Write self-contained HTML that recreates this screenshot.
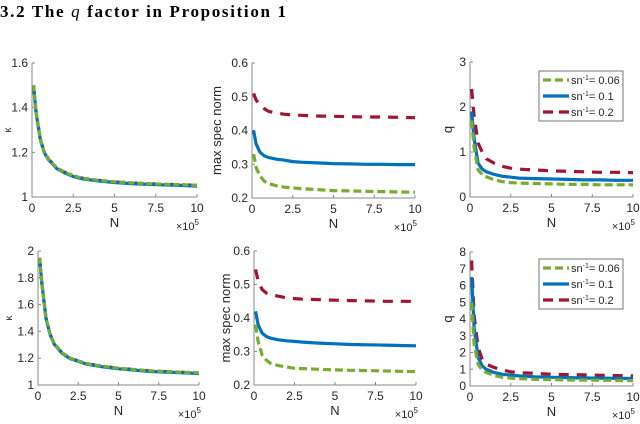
<!DOCTYPE html>
<html><head><meta charset="utf-8"><style>
body{margin:0;background:#fff;width:640px;height:419px;overflow:hidden}
svg text{font-family:"Liberation Sans",sans-serif;fill:#262626}
</style></head><body>
<svg id="fig" width="640" height="419" viewBox="0 0 640 419" xmlns="http://www.w3.org/2000/svg">
<text x="0" y="17" textLength="286" lengthAdjust="spacing" style="font-family:'Liberation Serif',serif;font-weight:bold;font-size:17px;fill:#000">3.2   The <tspan font-style="italic" font-weight="normal">q</tspan> factor in Proposition 1</text>
</svg>
<script>
const xs=[0.1,0.25,0.5,0.75,1,1.5,2,2.5,3,4,5,6,7,8,9,10];
const xTicks=[0,2.5,5,7.5,10];
const xTickLabels=["0","2.5","5","7.5","10"];
const kTop=[1.5,1.38,1.26,1.2,1.17,1.13,1.11,1.095,1.085,1.075,1.068,1.063,1.06,1.057,1.055,1.052];
const mTopRed=[0.51,0.49,0.475,0.465,0.457,0.452,0.448,0.446,0.445,0.443,0.442,0.441,0.44,0.44,0.439,0.438];
const mTopBlue=[0.4,0.36,0.335,0.325,0.32,0.315,0.312,0.308,0.306,0.304,0.302,0.301,0.3,0.3,0.299,0.299];
const mTopGreen=[0.33,0.29,0.265,0.25,0.243,0.236,0.232,0.23,0.228,0.225,0.222,0.221,0.22,0.219,0.218,0.217];
const qTopRed=[2.4,1.8,1.2,1.0,0.85,0.75,0.68,0.64,0.62,0.6,0.58,0.57,0.56,0.55,0.55,0.54];
const qTopBlue=[1.9,1.3,0.75,0.62,0.56,0.5,0.46,0.44,0.42,0.41,0.4,0.39,0.38,0.38,0.37,0.37];
const qTopGreen=[1.7,1.1,0.6,0.5,0.45,0.38,0.34,0.32,0.31,0.3,0.29,0.28,0.28,0.27,0.27,0.27];
const kBot=[1.95,1.75,1.5,1.38,1.31,1.24,1.2,1.18,1.16,1.14,1.125,1.115,1.105,1.1,1.095,1.09];
const mBotRed=[0.545,0.51,0.485,0.475,0.47,0.465,0.46,0.458,0.456,0.455,0.453,0.452,0.451,0.45,0.45,0.45];
const mBotBlue=[0.42,0.38,0.355,0.345,0.34,0.335,0.332,0.33,0.328,0.325,0.323,0.321,0.32,0.319,0.318,0.317];
const mBotGreen=[0.38,0.33,0.29,0.275,0.265,0.258,0.254,0.25,0.249,0.247,0.245,0.244,0.243,0.242,0.241,0.24];
const qBotRed=[7.5,4.2,2.3,1.6,1.3,1.1,0.95,0.85,0.8,0.75,0.7,0.68,0.66,0.64,0.62,0.6];
const qBotBlue=[6.5,3.5,1.7,1.2,1.0,0.8,0.7,0.65,0.6,0.55,0.52,0.5,0.48,0.47,0.46,0.45];
const qBotGreen=[5,2.5,1.3,0.95,0.8,0.62,0.52,0.47,0.44,0.4,0.38,0.36,0.35,0.34,0.33,0.32];

const NS="http://www.w3.org/2000/svg",svg=document.getElementById('fig');
const C={g:"#77AC30",b:"#0072BD",r:"#A2142F"};
function mk(t,a,p){const e=document.createElementNS(NS,t);for(const k in a)e.setAttribute(k,a[k]);(p||svg).appendChild(e);return e;}
function panel(name,x0,x1,yT,yB,ymin,ymax,yticks,ylab,series,legend){
  const g=mk('g',{});
  
  
  const X=v=>x0+(v-0)/10*(x1-x0), Y=v=>yB-(v-ymin)/(ymax-ymin)*(yB-yT);
  const ax=mk('path',{d:`M${x0},${yT}V${yB}H${x1}`,stroke:"#888",fill:"none","stroke-width":1},g);
  
  
  xTicks.forEach((t,i)=>{
    mk('line',{x1:X(t),x2:X(t),y1:yB,y2:yB-3,stroke:"#888"},g);
    const tx=mk('text',{x:X(t),y:yB+15,"text-anchor":"middle","font-size":12},g);tx.textContent=xTickLabels[i];
    
    
  });
  yticks.forEach(t=>{
    mk('line',{x1:x0,x2:x0+3,y1:Y(t),y2:Y(t),stroke:"#888"},g);
    const tx=mk('text',{x:x0-4,y:Y(t)+4,"text-anchor":"end","font-size":12},g);tx.textContent=String(t);
    
    
  });
  const xl=mk('text',{x:(x0+x1)/2,y:yB+30,"text-anchor":"middle","font-size":13},g);xl.textContent="N";
  
  
  const ex=mk('text',{x:x1+2,y:yB+33,"text-anchor":"end","font-size":11,fill:"#555"},g);ex.innerHTML='×10<tspan dy="-5" font-size="8">5</tspan>';
  
  
  const yl=mk('text',{transform:`translate(${ylab.x},${(yT+yB)/2}) rotate(-90)`,"text-anchor":"middle","font-size":ylab.s},g);yl.textContent=ylab.t;
  
  
  series.forEach(s=>{
    const d=xs.map((v,i)=>(i?'L':'M')+X(v).toFixed(1)+','+Y(s.v[i]).toFixed(1)).join('');
    const p=mk('path',{d:d,stroke:C[s.c],fill:"none","stroke-width":3.2,"stroke-dasharray":s.dash||"none"},g);
    
    
  });
  if(legend){
    const lg=mk('g',{},g);
    
    
    mk('rect',{x:legend.x,y:legend.y,width:84,height:50,fill:"#fff",stroke:"#555","stroke-width":0.8},lg);
    [["g","0.06","8 4"],["b","0.1","none"],["r","0.2","10 6"]].forEach((e,i)=>{
      const yy=legend.y+9+i*16;
      mk('line',{x1:legend.x+4,x2:legend.x+30,y1:yy,y2:yy,stroke:C[e[0]],"stroke-width":3.2,"stroke-dasharray":e[2]},lg);
      const t=mk('text',{x:legend.x+32,y:yy+4,"font-size":11},lg);t.innerHTML='sn<tspan dy="-4" font-size="7">-1</tspan><tspan dy="4">= '+e[1]+'</tspan>';
      
      
    });
  }
}
const gd="8 4", rd="10 8";
panel('kappa-top',32,197,63,197,1,1.6,[1,1.2,1.4,1.6],{x:11,t:"κ",s:10},
 [{n:'red',c:'r',v:kTop,dash:"3 3"},{n:'blue',c:'b',v:kTop.map(v=>v-0.003),dash:"none"},{n:'green',c:'g',v:kTop,dash:"6 3"}]);
panel('spec-norm-top',252,415,63,198,0.2,0.6,[0.2,0.3,0.4,0.5,0.6],{x:221,t:"max spec norm",s:13},
 [{n:'red',c:'r',v:mTopRed,dash:rd},{n:'blue',c:'b',v:mTopBlue},{n:'green',c:'g',v:mTopGreen,dash:gd}]);
panel('q-top',470,633,62,197,0,3,[0,1,2,3],{x:452,t:"q",s:13},
 [{n:'red',c:'r',v:qTopRed,dash:rd},{n:'blue',c:'b',v:qTopBlue},{n:'green',c:'g',v:qTopGreen,dash:gd}],{x:539,y:71});
panel('kappa-bottom',38,199,251,385,1,2,[1,1.2,1.4,1.6,1.8,2],{x:12,t:"κ",s:10},
 [{n:'red',c:'r',v:kBot,dash:"3 3"},{n:'blue',c:'b',v:kBot.map(v=>v-0.004),dash:"none"},{n:'green',c:'g',v:kBot,dash:"6 3"}]);
panel('spec-norm-bottom',254,416,251,385,0.2,0.6,[0.2,0.3,0.4,0.5,0.6],{x:230,t:"max spec norm",s:13},
 [{n:'red',c:'r',v:mBotRed,dash:rd},{n:'blue',c:'b',v:mBotBlue},{n:'green',c:'g',v:mBotGreen,dash:gd}]);
panel('q-bottom',470,633,252,386,0,8,[0,1,2,3,4,5,6,7,8],{x:452,t:"q",s:13},
 [{n:'red',c:'r',v:qBotRed,dash:rd},{n:'blue',c:'b',v:qBotBlue},{n:'green',c:'g',v:qBotGreen,dash:gd}],{x:539,y:259});
</script>
</body></html>
